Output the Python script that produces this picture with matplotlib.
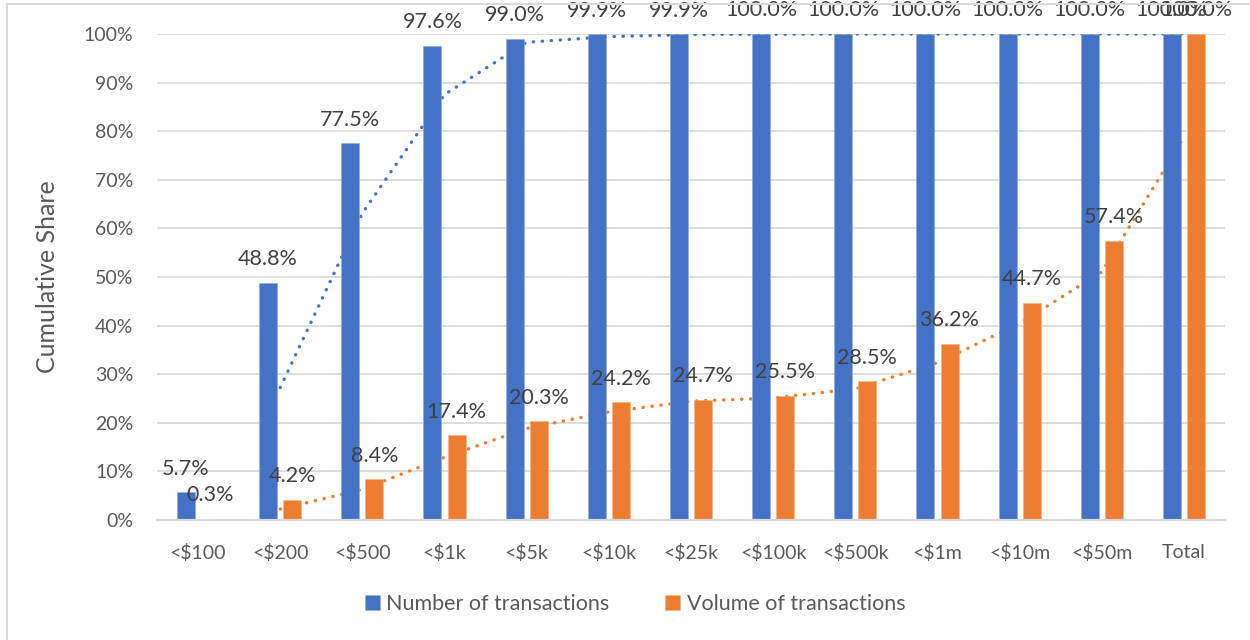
import numpy as np
import pandas as pd
import matplotlib
matplotlib.use("Agg")
import matplotlib.pyplot as plt
from matplotlib.lines import Line2D
from matplotlib.ticker import PercentFormatter, MultipleLocator

categories = ["<$100", "<$200", "<$500", "<$1k", "<$5k", "<$10k", "<$25k",
              "<$100k", "<$500k", "<$1m", "<$10m", "<$50m", "Total"]
number_share = [5.7, 48.8, 77.5, 97.6, 99.0, 99.9, 99.9, 100.0, 100.0, 100.0, 100.0, 100.0, 100.0]
volume_share = [0.3, 4.2, 8.4, 17.4, 20.3, 24.2, 24.7, 25.5, 28.5, 36.2, 44.7, 57.4, 100.0]
series_names = ["Number of transactions", "Volume of transactions"]

BLUE = "#4472C4"
ORANGE = "#ED7D31"
GRID = "#D9D9D9"
TEXT = "#595959"
LABEL = "#404040"

plt.rcParams["font.family"] = ["Lato", "DejaVu Sans"]

fig = plt.figure(figsize=(12.5, 6.4), dpi=100)
ax = fig.add_axes([157 / 1250, 1 - 520 / 640, (1225 - 157) / 1250, (520 - 34) / 640])

x = np.arange(len(categories))
width = 0.22
offset = 0.147

df = pd.DataFrame({"number": number_share, "volume": volume_share}, index=categories)

bars_n = ax.bar(x - offset, df["number"], width, color=BLUE, edgecolor="#8FAADC",
                linewidth=0.4, zorder=3, label=series_names[0])
bars_v = ax.bar(x + offset, df["volume"], width, color=ORANGE, edgecolor="#F4B183",
                linewidth=0.4, zorder=3, label=series_names[1])

# 2-period moving average trendlines (drawn behind the bars)
ma_n = df["number"].rolling(2).mean()
ma_v = df["volume"].rolling(2).mean()
for ma, col in [(ma_n, BLUE), (ma_v, ORANGE)]:
    ax.plot(x, ma.values, color=col, linewidth=2.4, linestyle=(0, (0.1, 2.6)),
            dash_capstyle="round", zorder=2)

for bars, vals in [(bars_n, number_share), (bars_v, volume_share)]:
    for b, v in zip(bars, vals):
        ax.annotate(f"{v:.1f}%", (b.get_x() + b.get_width() / 2, v),
                    xytext=(0, 17), textcoords="offset points",
                    ha="center", va="center", fontsize=15.5, color=LABEL,
                    annotation_clip=False, zorder=5)

ax.set_xlim(-0.5, len(categories) - 0.5)
ax.set_ylim(0, 100)
ax.yaxis.set_major_locator(MultipleLocator(10))
ax.yaxis.set_major_formatter(PercentFormatter(decimals=0))
ax.set_xticks(x)
ax.set_xticklabels(categories)
ax.tick_params(axis="both", length=0, labelsize=14, labelcolor=TEXT)
ax.tick_params(axis="y", pad=17)
ax.tick_params(axis="x", pad=17)

ax.grid(axis="y", color=GRID, linewidth=1.3, zorder=0)
ax.set_axisbelow(True)
for side in ["top", "right", "left"]:
    ax.spines[side].set_visible(False)
ax.spines["bottom"].set_color(GRID)
ax.spines["bottom"].set_linewidth(1.6)
ax.spines["bottom"].set_zorder(4)

ax.set_ylabel("Cumulative Share", fontsize=18, color=TEXT, labelpad=18)

fig.legend(handles=[bars_n, bars_v], labels=series_names, loc="center",
           bbox_to_anchor=(0.508, 1 - 604 / 640), ncol=2, frameon=False,
           fontsize=15.5, labelcolor=TEXT, handlelength=0.7, handleheight=0.7,
           handletextpad=0.3, columnspacing=2.6)

# chart frame (left and top edges visible)
fig.add_artist(Line2D([7 / 1250, 7 / 1250], [0, 1 - 4 / 640], color=GRID, linewidth=1.5))
fig.add_artist(Line2D([7 / 1250, 1], [1 - 4 / 640, 1 - 4 / 640], color=GRID, linewidth=1.5))

fig.savefig("out.png", dpi=100)
